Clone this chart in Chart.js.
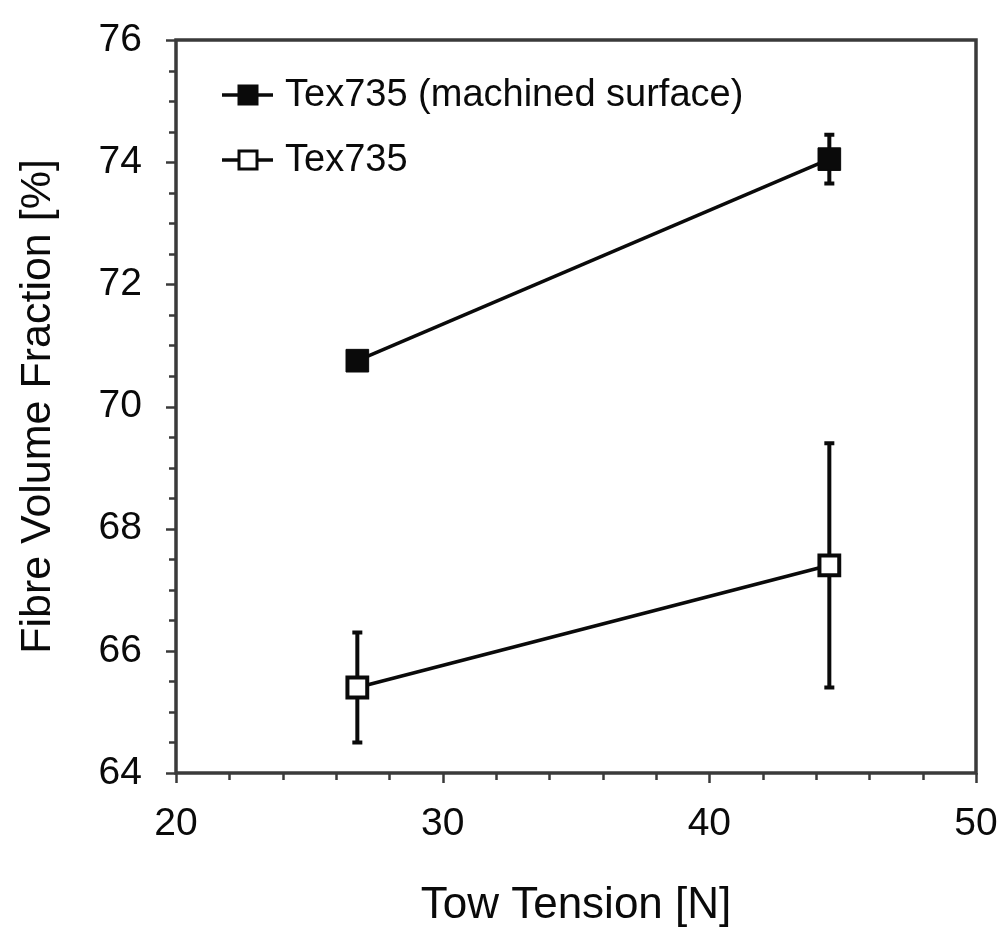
<!DOCTYPE html>
<html>
<head>
<meta charset="utf-8">
<script src="https://cdn.jsdelivr.net/npm/chart.js@4.4.0/dist/chart.umd.min.js"></script>
<style>
  body { margin: 0; background: #fff; }
  #wrap { width: 1004px; height: 943px; }
</style>
</head>
<body>
<div id="wrap"><canvas id="chart" width="1004" height="943"></canvas></div>
<script>
// data
const towTension = [26.8, 44.5];
const machined = [70.75, 74.05];
const machinedErr = [0, 0.4];
const plain = [65.4, 67.4];
const plainErr = [0.9, 2.0];
const xLabels = [20, 30, 40, 50];
const yLabels = [64, 66, 68, 70, 72, 74, 76];
const seriesNames = ['Tex735 (machined surface)', 'Tex735'];

const FONT = 'Liberation Sans, Arial, sans-serif';
const INK = '#0a0a0a';

// frame + outward ticks (major/minor)
const framePlugin = {
    id: 'frame',
    afterDraw(chart) {
        const ctx = chart.ctx;
        const a = chart.chartArea;
        const xs = chart.scales.x, ys = chart.scales.y;
        ctx.save();
        ctx.strokeStyle = '#3a3a3a';
        ctx.lineWidth = 3.5;
        ctx.strokeRect(a.left, a.top, a.right - a.left, a.bottom - a.top);
        ctx.lineWidth = 2.5;
        for (let v = ys.min; v <= ys.max + 1e-6; v += 0.5) {
            const y = Math.round(ys.getPixelForValue(v)) + 0.5;
            const len = yLabels.includes(v) ? 10 : 7;
            ctx.beginPath();
            ctx.moveTo(a.left - len, y);
            ctx.lineTo(a.left, y);
            ctx.stroke();
        }
        for (let v = xs.min; v <= xs.max + 1e-6; v += 2) {
            const x = Math.round(xs.getPixelForValue(v)) + 0.5;
            const len = xLabels.includes(v) ? 10 : 7;
            ctx.beginPath();
            ctx.moveTo(x, a.bottom);
            ctx.lineTo(x, a.bottom + len);
            ctx.stroke();
        }
        ctx.restore();
    }
};

// vertical error bars, drawn under the markers
const errorBarPlugin = {
    id: 'errorBars',
    beforeDatasetsDraw(chart) {
        const ctx = chart.ctx;
        const xs = chart.scales.x, ys = chart.scales.y;
        const sets = [[machined, machinedErr], [plain, plainErr]];
        ctx.save();
        ctx.strokeStyle = INK;
        ctx.lineWidth = 4;
        sets.forEach(([vals, errs]) => {
            vals.forEach((v, i) => {
                if (!errs[i]) return;
                const x = xs.getPixelForValue(towTension[i]);
                const y1 = ys.getPixelForValue(v + errs[i]);
                const y2 = ys.getPixelForValue(v - errs[i]);
                ctx.beginPath();
                ctx.moveTo(x, y1); ctx.lineTo(x, y2);
                ctx.moveTo(x - 5, y1); ctx.lineTo(x + 5, y1);
                ctx.moveTo(x - 5, y2); ctx.lineTo(x + 5, y2);
                ctx.stroke();
            });
        });
        ctx.restore();
    }
};

// legend inside the plot, top-left
const insideLegend = {
    id: 'insideLegend',
    afterDraw(chart) {
        const ctx = chart.ctx;
        const a = chart.chartArea;
        const rows = [
            { y: a.top + 55, fill: INK },
            { y: a.top + 120, fill: '#fff' }
        ];
        ctx.save();
        rows.forEach((r, i) => {
            const cx = a.left + 72;
            ctx.strokeStyle = INK;
            ctx.lineWidth = 3.5;
            ctx.beginPath();
            ctx.moveTo(cx - 26, r.y); ctx.lineTo(cx + 25, r.y);
            ctx.stroke();
            ctx.fillStyle = r.fill;
            ctx.lineWidth = 3;
            ctx.fillRect(cx - 9, r.y - 9, 18, 18);
            ctx.strokeRect(cx - 9, r.y - 9, 18, 18);
            ctx.fillStyle = INK;
            ctx.font = '38px ' + FONT;
            ctx.textBaseline = 'middle';
            ctx.fillText(seriesNames[i], a.left + 109, r.y + 1);
        });
        ctx.restore();
    }
};

const ctx = document.getElementById('chart').getContext('2d');
new Chart(ctx, {
    type: 'scatter',
    data: {
        datasets: [{
            label: seriesNames[0],
            data: towTension.map((x, i) => ({ x: x, y: machined[i] })),
            showLine: true,
            borderColor: INK,
            borderWidth: 3.5,
            pointStyle: 'rect',
            pointRadius: 16,
            pointBackgroundColor: INK,
            pointBorderColor: INK,
            pointBorderWidth: 1
        }, {
            label: seriesNames[1],
            data: towTension.map((x, i) => ({ x: x, y: plain[i] })),
            showLine: true,
            borderColor: INK,
            borderWidth: 3.5,
            pointStyle: 'rect',
            pointRadius: 14,
            pointBackgroundColor: '#fff',
            pointBorderColor: INK,
            pointBorderWidth: 4
        }]
    },
    options: {
        responsive: false,
        animation: false,
        devicePixelRatio: 1,
        layout: { padding: { left: 0, top: 40, right: 28, bottom: 0 } },
        plugins: {
            legend: { display: false },
            tooltip: { enabled: false }
        },
        scales: {
            x: {
                type: 'linear',
                min: 20,
                max: 50,
                afterFit: s => {
                    s.height = 170;
                    s.paddingLeft = 0;
                    s.paddingRight = 0;
                },
                grid: { display: false },
                border: { display: false },
                ticks: {
                    stepSize: 2,
                    autoSkip: false,
                    maxRotation: 0,
                    padding: 20,
                    color: INK,
                    font: { family: FONT, size: 39 },
                    callback: v => xLabels.includes(v) ? v : ''
                },
                title: {
                    display: true,
                    text: 'Tow Tension [N]',
                    color: INK,
                    font: { family: FONT, size: 44 },
                    padding: { top: 0, bottom: 11 }
                }
            },
            y: {
                type: 'linear',
                min: 64,
                max: 76,
                afterFit: s => {
                    s.width = 176;
                    s.paddingTop = 0;
                    s.paddingBottom = 0;
                },
                grid: { display: false },
                border: { display: false },
                ticks: {
                    stepSize: 0.5,
                    autoSkip: false,
                    padding: 26,
                    color: INK,
                    font: { family: FONT, size: 39 },
                    callback: v => yLabels.includes(v) ? v : ''
                },
                title: {
                    display: true,
                    text: 'Fibre Volume Fraction [%]',
                    color: INK,
                    font: { family: FONT, size: 43 },
                    padding: { top: 12, bottom: 0 }
                }
            }
        }
    },
    plugins: [framePlugin, errorBarPlugin, insideLegend]
});
</script>
</body>
</html>
